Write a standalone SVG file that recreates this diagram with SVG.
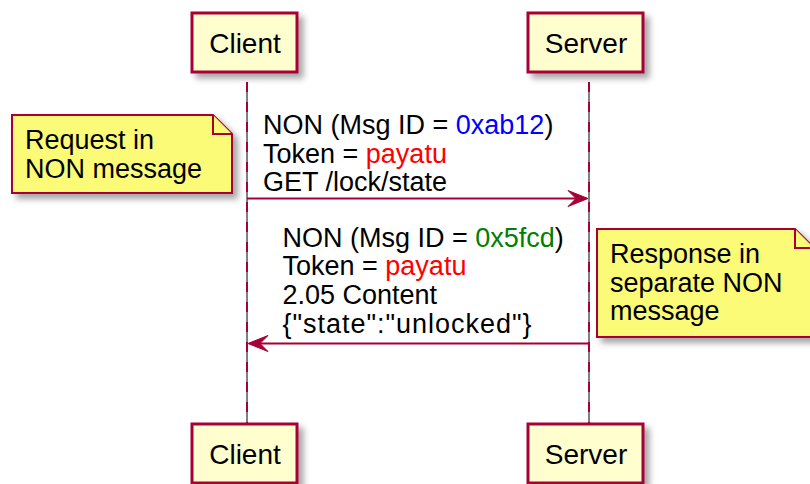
<svg xmlns="http://www.w3.org/2000/svg" width="810" height="484" viewBox="0 0 810 484">
  <defs>
    <filter id="shadow" x="-20%" y="-20%" width="150%" height="160%">
      <feGaussianBlur in="SourceAlpha" stdDeviation="3"/>
      <feOffset dx="5" dy="5" result="blur"/>
      <feFlood flood-color="#000000" flood-opacity="0.35"/>
      <feComposite in2="blur" operator="in" result="shade"/>
      <feMerge>
        <feMergeNode in="shade"/>
        <feMergeNode in="SourceGraphic"/>
      </feMerge>
    </filter>
  </defs>
  <style>
    text { font-family: "Liberation Sans", Arial, sans-serif; fill: #000000; }
    .part { fill: #FEFECE; stroke: #A80036; stroke-width: 3; }
    .ptext { font-size: 28px; text-anchor: middle; }
    .note { fill: #FBFB77; stroke: #A80036; stroke-width: 2; stroke-linejoin: miter; }
    .ntext { font-size: 27px; }
    .mtext { font-size: 27px; }
    .life-base { stroke: #000000; stroke-width: 1; }
    .life { stroke: #A80036; stroke-width: 2; stroke-dasharray: 10 10; }
    .msg { stroke: #A80036; stroke-width: 2; fill: none; }
    .head { fill: #A80036; stroke: #A80036; stroke-width: 1; }
    .blue { fill: #0000FF; }
    .red { fill: #FF0000; }
    .green { fill: #008000; }
  </style>

  <!-- lifelines -->
  <g id="lifelines">
    <line class="life-base" x1="247" y1="82" x2="247" y2="423"/>
    <line class="life" x1="247" y1="82" x2="247" y2="423"/>
    <line class="life-base" x1="589" y1="82" x2="589" y2="423"/>
    <line class="life" x1="589" y1="82" x2="589" y2="423"/>
  </g>

  <!-- participants -->
  <g id="client-top">
    <rect class="part" x="192" y="13" width="105" height="59" filter="url(#shadow)"/>
    <text class="ptext" x="245" y="53">Client</text>
  </g>
  <g id="server-top">
    <rect class="part" x="528" y="13" width="115" height="59" filter="url(#shadow)"/>
    <text class="ptext" x="586" y="53">Server</text>
  </g>
  <g id="client-bottom">
    <rect class="part" x="192" y="424" width="105" height="59" filter="url(#shadow)"/>
    <text class="ptext" x="245" y="464">Client</text>
  </g>
  <g id="server-bottom">
    <rect class="part" x="528" y="424" width="115" height="59" filter="url(#shadow)"/>
    <text class="ptext" x="586" y="464">Server</text>
  </g>

  <!-- notes -->
  <g id="note-request">
    <path class="note" d="M12,115 L213,115 L232,134 L232,193 L12,193 Z" filter="url(#shadow)"/>
    <path class="note" d="M213,115 L213,134 L232,134"/>
    <text class="ntext" x="25" y="149">Request in</text>
    <text class="ntext" x="25" y="177.5">NON message</text>
  </g>
  <g id="note-response">
    <path class="note" d="M597,229 L795,229 L814,248 L814,337 L597,337 Z" filter="url(#shadow)"/>
    <path class="note" d="M795,229 L795,248 L814,248"/>
    <text class="ntext" x="610" y="263">Response in</text>
    <text class="ntext" x="610" y="291.5">separate NON</text>
    <text class="ntext" x="610" y="320">message</text>
  </g>

  <!-- messages -->
  <g id="connectors">
    <g id="msg-request">
      <line class="msg" x1="247" y1="198.5" x2="586" y2="198.5"/>
      <polygon class="head" points="588,198.5 568,190.5 576,198.5 568,206.5"/>
      <text class="mtext" x="263" y="133.5">NON (Msg ID = <tspan class="blue">0xab12</tspan>)</text>
      <text class="mtext" x="263" y="162.5">Token = <tspan class="red">payatu</tspan></text>
      <text class="mtext" x="263" y="191">GET /lock/state</text>
    </g>
    <g id="msg-response">
      <line class="msg" x1="250" y1="343.5" x2="589" y2="343.5"/>
      <polygon class="head" points="248,343.5 268,335.5 260,343.5 268,351.5"/>
      <text class="mtext" x="282.5" y="246.5">NON (Msg ID = <tspan class="green">0x5fcd</tspan>)</text>
      <text class="mtext" x="282.5" y="275.3">Token = <tspan class="red">payatu</tspan></text>
      <text class="mtext" x="282.5" y="304">2.05 Content</text>
      <text class="mtext" x="282.5" y="332.7" textLength="249" lengthAdjust="spacing">{"state":"unlocked"}</text>
    </g>
  </g>
</svg>
